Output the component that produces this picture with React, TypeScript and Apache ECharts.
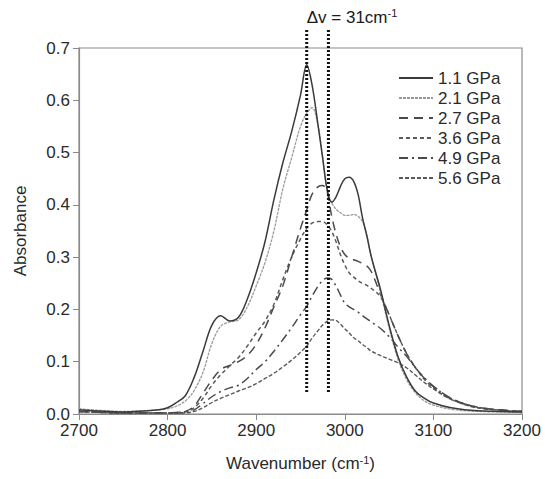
import React, { useEffect, useRef } from "react";
import * as echarts from "echarts";

const wavenumbers = [
  2700, 2750, 2790, 2800, 2810, 2820, 2830, 2840, 2850, 2860, 2870, 2880, 2890, 2900, 2910, 2920,
  2930, 2940, 2950, 2957, 2963, 2970, 2975, 2980, 2985, 2990, 2995, 3000, 3005, 3010, 3015, 3020,
  3025, 3030, 3040, 3050, 3060, 3070, 3080, 3090, 3100, 3120, 3150, 3200,
];

const p11 = [
  0.008, 0.004, 0.008, 0.012, 0.022, 0.035, 0.07, 0.12, 0.17, 0.188, 0.178, 0.185, 0.22, 0.27, 0.33, 0.41,
  0.48, 0.54, 0.61, 0.668, 0.63, 0.55, 0.49, 0.43, 0.405, 0.415, 0.435, 0.45, 0.453, 0.445, 0.42, 0.375,
  0.34, 0.3, 0.24, 0.17, 0.11, 0.07, 0.043, 0.03, 0.021, 0.012, 0.006, 0.004,
];
const p21 = [
  0.01, 0.005, 0.008, 0.01, 0.015, 0.025, 0.045, 0.08, 0.135, 0.168, 0.176, 0.18, 0.205, 0.245, 0.29, 0.35,
  0.43, 0.49, 0.55, 0.575, 0.586, 0.55, 0.49, 0.43, 0.405, 0.392, 0.385, 0.38, 0.38, 0.382, 0.378, 0.368,
  0.34, 0.3, 0.235, 0.165, 0.105, 0.065, 0.04, 0.025, 0.017, 0.009, 0.005, 0.003,
];
const p27 = [
  0.005, 0.002, 0.002, 0.002, 0.003, 0.005, 0.015, 0.04, 0.065, 0.085, 0.093, 0.1, 0.112, 0.133, 0.165, 0.205,
  0.245, 0.3, 0.355, 0.39, 0.42, 0.435, 0.437, 0.425, 0.38, 0.345, 0.32, 0.305, 0.298, 0.295, 0.292, 0.288,
  0.283, 0.272, 0.23, 0.19, 0.15, 0.115, 0.088, 0.068, 0.053, 0.03, 0.013, 0.005,
];
const p36 = [
  0.005, 0.002, 0.002, 0.002, 0.003, 0.004, 0.012, 0.03, 0.055, 0.075, 0.092, 0.108, 0.13, 0.155, 0.178, 0.21,
  0.257, 0.3, 0.335, 0.355, 0.365, 0.368, 0.368, 0.362, 0.35, 0.33, 0.305, 0.285, 0.27, 0.262, 0.255, 0.25,
  0.246, 0.24, 0.225, 0.19, 0.15, 0.115, 0.088, 0.066, 0.05, 0.028, 0.012, 0.005,
];
const p49 = [
  0.005, 0.002, 0.002, 0.002, 0.002, 0.003, 0.008, 0.02, 0.033, 0.043, 0.05, 0.055, 0.068, 0.085, 0.1, 0.12,
  0.142, 0.165, 0.19, 0.206, 0.225, 0.245, 0.255, 0.26, 0.258, 0.245, 0.228, 0.212, 0.205, 0.2, 0.195, 0.188,
  0.182, 0.176, 0.164, 0.148, 0.128, 0.11, 0.088, 0.069, 0.053, 0.03, 0.013, 0.005,
];
const p56 = [
  0.005, 0.002, 0.002, 0.002, 0.002, 0.002, 0.005, 0.012, 0.022, 0.03, 0.037, 0.044, 0.05, 0.058, 0.068, 0.078,
  0.09, 0.103, 0.118, 0.13, 0.145, 0.16, 0.17, 0.177, 0.18, 0.179, 0.172, 0.163, 0.155, 0.146, 0.14, 0.133,
  0.127, 0.12, 0.112, 0.105, 0.098, 0.088, 0.074, 0.06, 0.048, 0.028, 0.012, 0.005,
];

const seriesNames = ["1.1 GPa", "2.1 GPa", "2.7 GPa", "3.6 GPa", "4.9 GPa", "5.6 GPa"];
const seriesValues = [p11, p21, p27, p36, p49, p56];
const xTicks = [2700, 2800, 2900, 3000, 3100, 3200];
const yTicks = [0, 0.1, 0.2, 0.3, 0.4, 0.5, 0.6, 0.7];
const peakLines = [2957, 2981.5];
const annotationText = "Δv = 31cm";
const annotationSup = "-1";

const FONT = "'Liberation Sans', Arial, Helvetica, sans-serif";

const styles = [
  { color: "#3a3a3a", width: 1.5, type: "solid" as any },
  { color: "#9a9a9a", width: 1.3, type: [3, 1] as any },
  { color: "#4a4a4a", width: 1.5, type: [9, 6] as any },
  { color: "#5a5a5a", width: 1.5, type: [4, 3] as any },
  { color: "#4a4a4a", width: 1.5, type: [9, 4, 2, 4] as any },
  { color: "#5a5a5a", width: 1.4, type: [4, 2] as any },
];

export default function App() {
  const ref = useRef<HTMLDivElement>(null);
  useEffect(() => {
    if (!ref.current) return;
    const chart = echarts.init(ref.current, undefined, { renderer: "svg" });
    const option: any = {
      animation: false,
      backgroundColor: "#ffffff",
      textStyle: { fontFamily: FONT },
      grid: {
        left: 79,
        right: 23,
        top: 48,
        bottom: 65,
        show: true,
        borderColor: "#8a8a8a",
        borderWidth: 1.2,
        backgroundColor: "transparent",
      },
      legend: {
        orient: "vertical",
        left: 393,
        top: 64,
        itemWidth: 34,
        itemHeight: 14,
        itemGap: 2,
        data: seriesNames,
        itemStyle: { opacity: 0, borderWidth: 0 },
        textStyle: { fontSize: 17, color: "#2a2a2a", fontFamily: FONT, lineHeight: 18 },
      },
      xAxis: {
        type: "value",
        min: xTicks[0],
        max: xTicks[xTicks.length - 1],
        interval: 100,
        name: "Wavenumber (cm{sup|-1})",
        nameLocation: "middle",
        nameGap: 40,
        nameTextStyle: {
          fontSize: 17,
          color: "#2a2a2a",
          fontFamily: FONT,
          rich: { sup: { fontSize: 11, verticalAlign: "top", padding: [0, 0, 8, 0], color: "#2a2a2a" } },
        },
        axisLine: { lineStyle: { color: "#8a8a8a", width: 1.2 } },
        axisTick: { show: true, length: 6, lineStyle: { color: "#8a8a8a" } },
        axisLabel: {
          fontSize: 17,
          color: "#2a2a2a",
          margin: 8,
          fontFamily: FONT,
          formatter: (v: number) => String(v),
        },
        splitLine: { show: false },
      },
      yAxis: {
        type: "value",
        min: yTicks[0],
        max: yTicks[yTicks.length - 1],
        interval: 0.1,
        name: "Absorbance",
        nameLocation: "middle",
        nameRotate: 90,
        nameGap: 50,
        nameTextStyle: { fontSize: 17, color: "#2a2a2a", fontFamily: FONT },
        axisLine: { show: true, lineStyle: { color: "#8a8a8a", width: 1.2 } },
        axisTick: { show: true, length: 6, lineStyle: { color: "#8a8a8a" } },
        axisLabel: {
          fontSize: 17,
          color: "#2a2a2a",
          margin: 9,
          fontFamily: FONT,
          formatter: (v: number) => v.toFixed(1),
        },
        splitLine: { show: false },
      },
      series: seriesNames.map((name, i) => ({
        name,
        type: "line",
        data: wavenumbers.map((w, j) => [w, seriesValues[i][j]]),
        showSymbol: false,
        symbol: "none",
        smooth: 0.35,
        lineStyle: styles[i],
        itemStyle: { color: styles[i].color },
        z: 10 - i,
      })),
    };
    chart.setOption(option);

    const top = chart.convertToPixel({ gridIndex: 0 }, [peakLines[0], 0.736]) as number[];
    const graphics: any[] = peakLines.map((w) => {
      const a = chart.convertToPixel({ gridIndex: 0 }, [w, 0.042]) as number[];
      const b = chart.convertToPixel({ gridIndex: 0 }, [w, 0.736]) as number[];
      return {
        type: "line",
        shape: { x1: a[0], y1: a[1], x2: b[0], y2: b[1] },
        style: { stroke: "#111111", lineWidth: 3, lineDash: [2, 2] },
        z: 100,
      };
    });
    graphics.push({
      type: "text",
      x: top[0],
      y: top[1] - 12,
      style: {
        text: `{a|${annotationText}}{s|${annotationSup}}`,
        verticalAlign: "middle",
        rich: {
          a: { fontSize: 17, fill: "#1a1a1a", fontFamily: FONT },
          s: { fontSize: 11, fill: "#1a1a1a", fontFamily: FONT, verticalAlign: "top", padding: [0, 0, 8, 0] },
        },
      },
      z: 100,
    });
    chart.setOption({ graphic: graphics });

    return () => chart.dispose();
  }, []);
  return (
    <div
      ref={ref}
      style={{ position: "absolute", left: 0, top: 0, width: 545, height: 479 }}
    />
  );
}
